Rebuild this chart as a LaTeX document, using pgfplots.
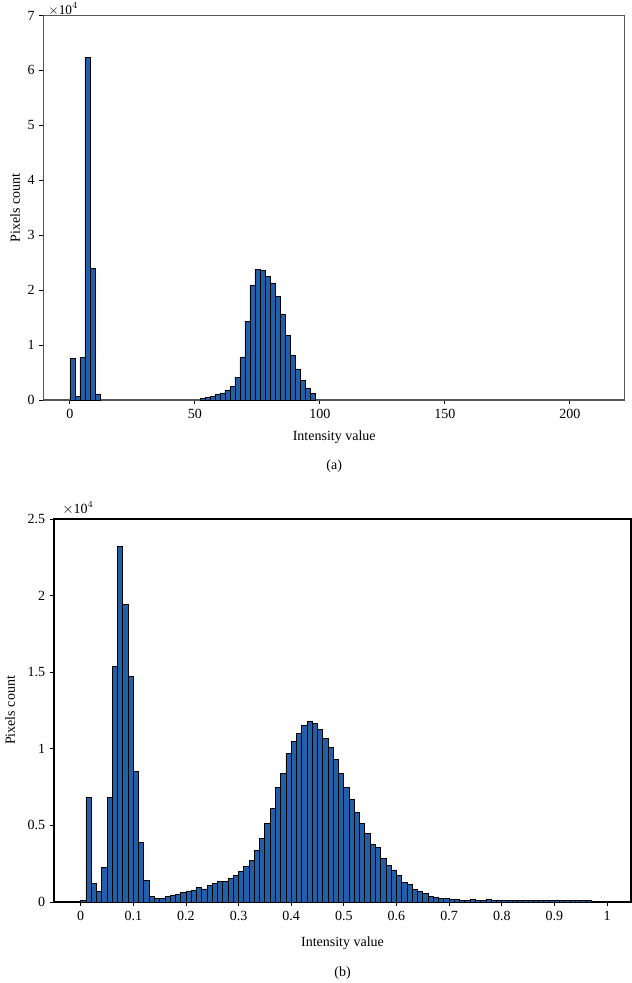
\documentclass[border=0pt]{standalone}
\usepackage{fontspec}
\setmainfont{Liberation Serif}
\usepackage{pgfplots}
\pgfplotsset{compat=1.18}
\definecolor{barblue}{RGB}{33,95,168}
\definecolor{axgray}{RGB}{85,85,85}
\begin{document}
\fontsize{10.5}{12}\selectfont
\begin{tikzpicture}
\useasboundingbox (0,0) rectangle (474pt,737.25pt);
\pgfplotsset{
  histax/.style={
    scale only axis,
    anchor=south west,
    axis line style={line width=0.8pt},
    tick align=outside,
    xtick pos=bottom, ytick pos=left,
    major tick length=3pt,
    tick style={line width=0.7pt, black},
    /pgf/number format/assume math mode=true,
    ticklabel style={font=\fontsize{10.5}{12}\selectfont},
    label style={font=\fontsize{10.5}{12}\selectfont},
    scaled y ticks=false,
    scaled x ticks=false,
    ymin=0,
    clip=false,
  },
  hbar/.style={ybar interval, fill=barblue, draw=black, line width=0.65pt},
}
% ---------- (a) ----------
\begin{axis}[histax,
  at={(32.6pt,437.25pt)}, width=436.1pt, height=288.4pt,
  axis line style={axgray},
  xmin=-10.6, xmax=222, ymax=70000,
  xtick={0,50,100,150,200},
  ytick={0,10000,20000,30000,40000,50000,60000,70000},
  yticklabels={0,1,2,3,4,5,6,7},
  xlabel={Intensity value},
  ylabel={Pixels count},
  every axis x label/.style={at={(axis description cs:0.5,0)},anchor=center,yshift=-27.75pt},
  every axis y label/.style={at={(axis description cs:-0.049,0.5)},anchor=center,rotate=90},
]
\addplot[hbar] table {
x y
0 7600
2 600
4 7800
6 62400
8 24000
10 1100
12 0
};
\addplot[hbar] table {
x y
52 240
54 420
56 670
58 970
60 1280
62 1820
64 2430
66 4070
68 7830
70 14330
72 20890
74 23740
76 23560
78 22530
80 21310
82 18820
84 15660
86 11720
88 8200
90 5650
92 3520
94 2190
96 1210
98 0
};
\node[anchor=south west, inner sep=0pt, xshift=3.5pt, yshift=0pt, font=\fontsize{10}{11}\selectfont] at (rel axis cs:0,1) {$\times\mathrm{10}^{4}$};
\node[anchor=center] at (rel axis cs:0.5,0) [yshift=-49.5pt] {(a)};
\end{axis}
% ---------- (b) ----------
\begin{axis}[histax,
  at={(40.5pt,60.75pt)}, width=432.75pt, height=287.25pt,
  xmin=-0.0508, xmax=1.0456, ymax=25000,
  xtick={0,0.1,0.2,0.3,0.4,0.5,0.6,0.7,0.8,0.9,1},
  xticklabels={0,0.1,0.2,0.3,0.4,0.5,0.6,0.7,0.8,0.9,1},
  ytick={0,5000,10000,15000,20000,25000},
  yticklabels={0,0.5,1,1.5,2,2.5},
  xlabel={Intensity value},
  ylabel={Pixels count},
  every axis x label/.style={at={(axis description cs:0.5,0)},anchor=center,yshift=-30.75pt},
  every axis y label/.style={at={(axis description cs:-0.0763,0.5)},anchor=center,rotate=90},
]
\addplot[hbar] table {
x y
0.00 110
0.01 6850
0.02 1200
0.03 720
0.04 2240
0.05 6850
0.06 15370
0.07 23200
0.08 19400
0.09 14700
0.10 8520
0.11 3900
0.12 1400
0.13 350
0.14 260
0.15 260
0.16 350
0.17 410
0.18 520
0.19 610
0.20 720
0.21 780
0.22 920
0.23 850
0.24 1090
0.25 1240
0.26 1330
0.27 1370
0.28 1520
0.29 1760
0.30 1980
0.31 2300
0.32 2740
0.33 3350
0.34 4130
0.35 5110
0.36 6130
0.37 7500
0.38 8370
0.39 9670
0.40 10500
0.41 10980
0.42 11540
0.43 11760
0.44 11650
0.45 11280
0.46 10650
0.47 10070
0.48 9330
0.49 8370
0.50 7460
0.51 6670
0.52 5850
0.53 5110
0.54 4460
0.55 3740
0.56 3540
0.57 2830
0.58 2390
0.59 2090
0.60 1740
0.61 1260
0.62 1130
0.63 830
0.64 700
0.65 540
0.66 390
0.67 300
0.68 240
0.69 220
0.70 170
0.71 150
0.72 130
0.73 130
0.74 200
0.75 130
0.76 120
0.77 200
0.78 120
0.79 110
0.80 100
0.81 100
0.82 100
0.83 100
0.84 100
0.85 100
0.86 90
0.87 100
0.88 90
0.89 90
0.90 90
0.91 80
0.92 80
0.93 80
0.94 80
0.95 70
0.96 70
0.97 60
0.98 60
0.99 50
1.00 0
};
\node[anchor=south west, inner sep=0pt, xshift=6pt, yshift=3pt] at (rel axis cs:0,1) {$\times\mathrm{10}^{4}$};
\node[anchor=center] at (rel axis cs:0.5,0) [yshift=-53.25pt] {(b)};
\end{axis}
\end{tikzpicture}
\end{document}
